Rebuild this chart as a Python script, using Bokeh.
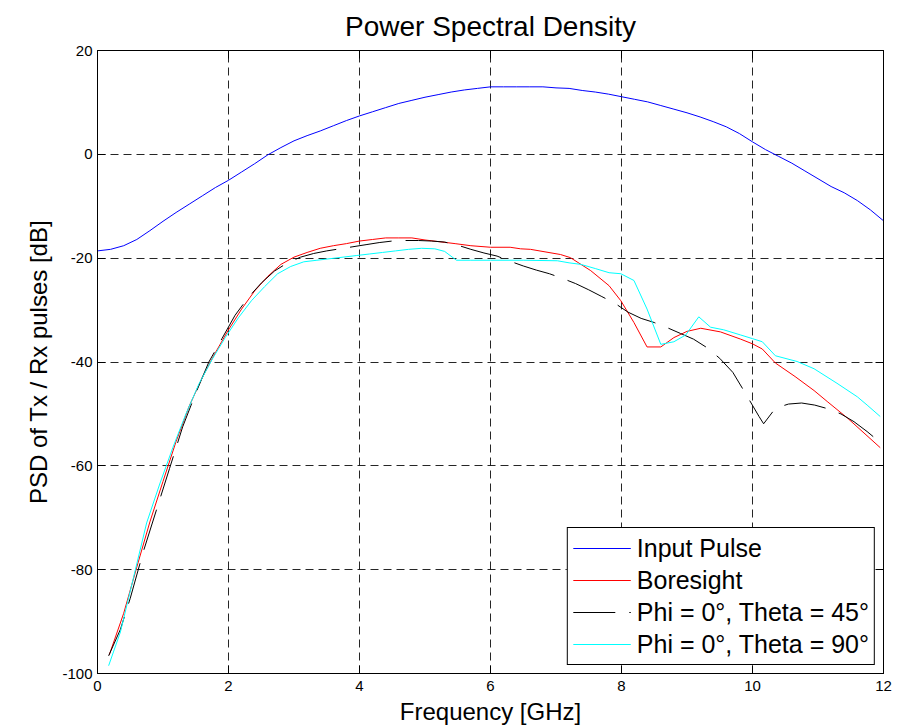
from bokeh.plotting import figure
from bokeh.models import (Range1d, FixedTicker, LinearAxis, Legend, LegendItem,
                          CustomJSTickFormatter)
from bokeh.embed import file_html
from bokeh.resources import INLINE

# ---------------- data ----------------
freq_input = [0.0, 0.2, 0.4, 0.6, 0.8, 1.0, 1.2, 1.4, 1.6, 1.8, 2.0, 2.2, 2.4, 2.6, 2.8,
              3.0, 3.2, 3.4, 3.6, 3.8, 4.0, 4.2, 4.4, 4.6, 4.8, 5.0, 5.2, 5.4, 5.6, 5.8,
              6.0, 6.2, 6.4, 6.6, 6.8, 7.0, 7.2, 7.4, 7.6, 7.8, 8.0, 8.2, 8.4, 8.6, 8.8,
              9.0, 9.2, 9.4, 9.6, 9.8, 10.0, 10.2, 10.4, 10.6, 10.8, 11.0, 11.2, 11.4,
              11.6, 11.8, 12.0]
psd_input = [-18.6, -18.3, -17.6, -16.4, -14.7, -12.9, -11.2, -9.6, -8.0, -6.4, -5.0,
             -3.4, -1.8, -0.1, 1.3, 2.6, 3.6, 4.5, 5.5, 6.5, 7.4, 8.2, 9.0, 9.8, 10.4,
             11.0, 11.5, 12.0, 12.4, 12.7, 13.0, 13.0, 13.0, 13.0, 13.0, 12.8, 12.7,
             12.3, 12.0, 11.6, 11.1, 10.6, 10.1, 9.4, 8.7, 8.0, 7.2, 6.3, 5.3, 4.0, 2.4,
             0.9, -0.4, -1.7, -3.2, -4.7, -6.2, -7.4, -8.9, -10.7, -12.8]

freq_bore = [0.18, 0.4, 0.6, 0.8, 1.0, 1.2, 1.4, 1.6, 1.8, 2.0, 2.2, 2.4, 2.6, 2.8, 3.0,
             3.2, 3.4, 3.6, 3.8, 4.0, 4.2, 4.4, 4.6, 4.8, 5.0, 5.2, 5.46, 5.7, 6.0, 6.3,
             6.46, 6.61, 7.07, 7.22, 7.53, 7.81, 7.99, 8.19, 8.39, 8.6, 8.8, 9.0, 9.21,
             9.51, 9.82, 10.0, 10.15, 10.35, 10.65, 10.94, 11.14, 11.45, 11.95]
psd_bore = [-96.4, -88.4, -79.5, -70.8, -63.0, -55.3, -48.5, -43.0, -38.2, -33.8, -29.8,
            -26.3, -23.5, -21.2, -19.8, -18.9, -18.1, -17.6, -17.2, -16.7, -16.4, -16.1,
            -16.1, -16.1, -16.5, -16.8, -17.2, -17.6, -17.9, -17.9, -18.2, -18.3, -19.3,
            -19.9, -22.4, -25.3, -28.2, -32.4, -37.1, -37.1, -35.3, -34.1, -33.5, -34.2,
            -35.6, -36.5, -37.5, -40.2, -42.8, -45.5, -47.6, -50.8, -56.5]

freq_t45 = [0.17, 0.35, 0.5, 0.7, 0.9, 1.1, 1.3, 1.5, 1.7, 1.9, 2.1, 2.3, 2.5, 2.7, 2.9,
            3.1, 3.3, 3.5, 3.7, 3.9, 4.1, 4.3, 4.5, 4.7, 4.9, 5.1, 5.3, 5.5, 5.7, 5.9,
            6.1, 6.3, 6.5, 6.7, 6.9, 7.1, 7.3, 7.5, 7.7, 7.9, 8.1, 8.3, 8.5, 8.7, 8.9,
            9.1, 9.3, 9.5, 9.7, 9.9, 10.1, 10.17, 10.35, 10.55, 10.75, 10.95, 11.15,
            11.35, 11.55, 11.75, 11.95]
psd_t45 = [-96.6, -91.5, -85.5, -76.5, -68.5, -60.5, -52.5, -46.0, -40.0, -35.5, -31.0,
           -27.6, -24.8, -22.5, -20.9, -19.8, -19.1, -18.6, -18.2, -17.8, -17.4, -17.0,
           -16.7, -16.6, -16.6, -16.7, -16.9, -17.5, -18.3, -19.0, -19.6, -20.6, -21.5,
           -22.3, -23.0, -23.9, -24.9, -26.1, -27.4, -28.7, -30.4, -31.6, -32.4, -33.4,
           -34.5, -35.6, -37.2, -39.3, -42.0, -46.2, -50.5, -51.9, -48.9, -48.1, -47.9,
           -48.3, -49.0, -50.0, -51.5, -53.4, -55.5]

freq_t90 = [0.17, 0.35, 0.55, 0.75, 0.95, 1.15, 1.35, 1.55, 1.75, 1.95, 2.15, 2.35, 2.55,
            2.75, 2.95, 3.15, 3.35, 3.55, 3.75, 3.95, 4.15, 4.35, 4.55, 4.75, 4.95, 5.15,
            5.3, 5.48, 5.7, 6.0, 6.5, 7.02, 7.2, 7.38, 7.6, 7.81, 7.99, 8.19, 8.39, 8.6,
            8.8, 8.98, 9.18, 9.36, 9.56, 9.82, 10.0, 10.15, 10.35, 10.68, 10.94, 11.29,
            11.6, 11.75, 11.95]
psd_t90 = [-98.5, -92.0, -81.5, -71.0, -63.5, -56.5, -50.0, -44.2, -39.5, -35.3, -31.5,
           -28.2, -25.5, -23.0, -21.6, -20.7, -20.4, -20.1, -19.8, -19.5, -19.2, -18.9,
           -18.6, -18.3, -18.1, -18.2, -18.7, -20.4, -20.4, -20.4, -20.4, -20.5, -20.9,
           -21.2, -22.0, -22.8, -23.0, -24.3, -29.8, -36.6, -36.1, -34.8, -31.3, -33.3,
           -33.8, -34.8, -35.5, -36.1, -38.8, -39.9, -41.3, -44.1, -46.7, -48.3, -50.5]

x_ticks = [0, 2, 4, 6, 8, 10, 12]
x_tick_labels = ["0", "2", "4", "6", "8", "10", "12"]
y_ticks = [-100, -80, -60, -40, -20, 0, 20]
y_tick_labels = ["-100", "-80", "-60", "-40", "-20", "0", "20"]
labels = ["Input Pulse", "Boresight", "Phi = 0°, Theta = 45°", "Phi = 0°, Theta = 90°"]

FONT = "Liberation Sans"

p = figure(width=907, height=728, output_backend="svg", toolbar_location=None,
           x_range=Range1d(0, 12), y_range=Range1d(-100, 20),
           min_border_left=97, min_border_right=24, min_border_top=50,
           min_border_bottom=55, background_fill_color="white",
           border_fill_color="white")

p.title.text = "Power Spectral Density"
p.title.align = "center"
p.title.vertical_align = "top"
p.title.text_font = FONT
p.title.text_font_size = "28px"
p.title.text_font_style = "normal"
p.title.text_color = "black"
p.title.standoff = 14

p.outline_line_color = "black"
p.outline_line_width = 1
p.outline_line_alpha = 1

for ax in (p.xaxis[0], p.yaxis[0]):
    ax.axis_line_color = "black"
    ax.major_tick_in = 8
    ax.major_tick_out = 0
    ax.minor_tick_line_color = None
    ax.major_tick_line_color = "black"
    ax.major_label_text_font = FONT
    ax.major_label_text_font_size = "15px"
    ax.major_label_text_color = "black"
    ax.axis_label_text_font = FONT
    ax.axis_label_text_font_size = "24px"
    ax.axis_label_text_font_style = "normal"
    ax.axis_label_text_color = "black"

p.xaxis[0].ticker = FixedTicker(ticks=x_ticks)
p.yaxis[0].ticker = FixedTicker(ticks=y_ticks)
p.xaxis[0].major_label_overrides = {t: s for t, s in zip(x_ticks, x_tick_labels)}
p.yaxis[0].major_label_overrides = {t: s for t, s in zip(y_ticks, y_tick_labels)}
p.xaxis[0].axis_label = "Frequency [GHz]"
p.yaxis[0].axis_label = "PSD of Tx / Rx pulses [dB]"
p.xaxis[0].major_label_standoff = 7
p.xaxis[0].axis_label_standoff = 4
p.yaxis[0].major_label_standoff = 5
p.yaxis[0].axis_label_standoff = 7

# mirror ticks on top / right (no labels)
blank = CustomJSTickFormatter(code="return '';")
top = LinearAxis(ticker=FixedTicker(ticks=x_ticks), major_tick_in=8, major_tick_out=0,
                 minor_tick_line_color=None, formatter=blank,
                 major_label_standoff=0, axis_line_color="black")
right = LinearAxis(ticker=FixedTicker(ticks=y_ticks), major_tick_in=8, major_tick_out=0,
                   minor_tick_line_color=None, formatter=blank,
                   major_label_standoff=0, axis_line_color="black")
p.add_layout(top, "above")
p.add_layout(right, "right")

p.xgrid.ticker = FixedTicker(ticks=x_ticks)
p.ygrid.ticker = FixedTicker(ticks=y_ticks)
for g in (p.xgrid[0], p.ygrid[0]):
    g.grid_line_color = "black"
    g.grid_line_alpha = 0.85
    g.grid_line_dash = "8 5"
    g.grid_line_width = 1

r1 = p.line(freq_input, psd_input, line_color="#0000ff", line_width=1)
r2 = p.line(freq_bore, psd_bore, line_color="#ff0000", line_width=1)
r3 = p.line(freq_t45, psd_t45, line_color="#000000", line_width=1, line_dash="42 14")
r4 = p.line(freq_t90, psd_t90, line_color="#00ffff", line_width=1)

legend = Legend(items=[LegendItem(label=labels[0], renderers=[r1]),
                       LegendItem(label=labels[1], renderers=[r2]),
                       LegendItem(label=labels[2], renderers=[r3]),
                       LegendItem(label=labels[3], renderers=[r4])],
                location="bottom_right")
legend.border_line_color = "black"
legend.border_line_width = 1
legend.border_line_alpha = 1
legend.background_fill_color = "white"
legend.background_fill_alpha = 1
legend.label_text_font = FONT
legend.label_text_font_size = "25px"
legend.label_text_color = "black"
legend.glyph_width = 58
legend.glyph_height = 30
legend.label_height = 30
legend.label_standoff = 6
legend.spacing = 2
legend.padding = 5
legend.margin = 8
p.add_layout(legend, "center")

open("out.html", "w").write(file_html(p, INLINE))
